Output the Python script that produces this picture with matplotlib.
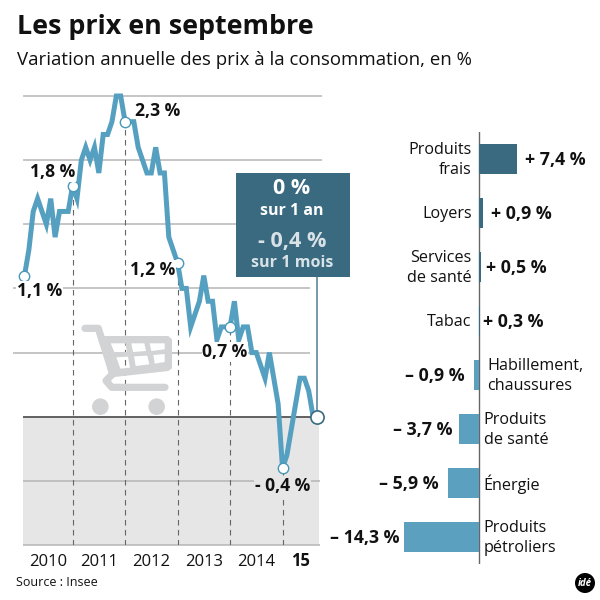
import numpy as np
from matplotlib import pyplot as plt
from matplotlib.patches import Circle, PathPatch, Rectangle
from matplotlib.path import Path

plt.rcParams['font.family'] = ['Open Sans', 'DejaVu Sans']

# monthly values, Feb 2010 -> Sep 2015
prices = [1.1, 1.3, 1.6, 1.7, 1.6, 1.5, 1.7, 1.4, 1.6, 1.6, 1.6,
          1.8, 1.7, 2.0, 2.1, 2.0, 2.1, 1.9, 2.2, 2.2, 2.3, 2.5, 2.5,
          2.3, 2.3, 2.3, 2.1, 2.0, 1.9, 1.9, 2.1, 1.9, 1.9, 1.4, 1.3,
          1.2, 1.0, 1.0, 0.7, 0.8, 0.9, 1.1, 0.9, 0.9, 0.6, 0.7, 0.7,
          0.7, 0.9, 0.6, 0.7, 0.7, 0.5, 0.5, 0.4, 0.3, 0.5, 0.3, 0.1,
          -0.4, -0.3, -0.1, 0.1, 0.3, 0.3, 0.2, 0.0, 0.0]
marked = [0, 11, 23, 35, 47, 59]
marked_labels = ['1,1 %', '1,8 %', '2,3 %', '1,2 %', '0,7 %', '- 0,4 %']
year_bounds = [-0.0, 11, 23, 35, 47, 59, 67]
years = ['2010', '2011', '2012', '2013', '2014', '15']

categories = ['Produits\nfrais', 'Loyers', 'Services\nde santé', 'Tabac',
              'Habillement,\nchaussures', 'Produits\nde santé', 'Énergie',
              'Produits\npétroliers']
changes = [7.4, 0.9, 0.5, 0.3, -0.9, -3.7, -5.9, -14.3]
change_labels = ['+ 7,4 %', '+ 0,9 %', '+ 0,5 %', '+ 0,3 %',
                 '– 0,9 %', '– 3,7 %', '– 5,9 %', '– 14,3 %']

LINE_BLUE = '#55a0c0'
DARK_BLUE = '#396a80'
LIGHT_BAR = '#5ba1bf'
GRID = '#b5b5b5'
CART = '#d2d3d5'


def px_axes(fig, left, top, right, bottom):
    return fig.add_axes([left / 600, 1 - bottom / 600,
                         (right - left) / 600, (bottom - top) / 600])


def draw_cart(ax):
    # coordinates in zoomed units: x / 3, 300 + y / 3
    def z(points):
        return [(x / 3, 300 + y / 3) for x, y in points]
    frame = z([(255, 85), (295, 85), (338, 222), (318, 242), (335, 262), (495, 262)])
    ax.plot(*zip(*frame), color=CART, lw=5.2, solid_capstyle='round',
            solid_joinstyle='round')
    outer = z([(300, 108), (505, 108), (516, 118), (516, 205), (505, 213),
               (335, 232), (325, 215)])
    cells = [[(332, 130), (376, 130), (381, 156), (343, 156)],
             [(394, 130), (433, 130), (438, 153), (399, 156)],
             [(449, 130), (494, 130), (494, 148), (454, 153)],
             [(349, 172), (384, 170), (390, 203), (361, 206)],
             [(402, 169), (442, 167), (448, 193), (407, 198)],
             [(460, 165), (494, 162), (494, 186), (464, 191)]]
    paths = [Path(outer + outer[:1], closed=True)]
    for cell in cells:
        pts = z(cell)[::-1]
        paths.append(Path(pts + pts[:1], closed=True))
    ax.add_patch(PathPatch(Path.make_compound_path(*paths), fc=CART, ec='none'))
    for cx in (301, 470):
        ax.add_patch(Circle((cx / 3, 300 + 320 / 3), 8.3, fc=CART, ec='none'))


fig = plt.figure(figsize=(6, 6), dpi=100)

# line chart
ax = px_axes(fig, 23, 96, 322, 545)
ax.patch.set_alpha(0)
ax.set_xlim(-0.34, 68.03)
ax.set_ylim(-1.0, 2.5)
for side in ax.spines.values():
    side.set_visible(False)

ax.axhspan(-1.0, 0, xmin=0, xmax=0.99, color='#e6e6e6', lw=0, zorder=0)
ax.hlines([2.5, 2.0, 1.5], -0.34, 68, color=GRID, lw=1.1, zorder=1, clip_on=False)
ax.hlines([1.0, 0.5], -2.6, 65.3, color=GRID, lw=1.1, zorder=1, clip_on=False)
ax.hlines([-0.5, -1.0], -0.34, 67.6, color=GRID, lw=1.1, zorder=1, clip_on=False)
ax.hlines(0, -0.34, 67.6, color='#555555', lw=1.3, zorder=1)

marked_vals = [prices[i] for i in marked]
ax.vlines(marked[1:], -1.0, marked_vals[1:], color='#666666', lw=0.8,
          linestyles=(0, (5, 4)), zorder=2)
ax.vlines(67, 0, 1.09, color='#5e879b', lw=1.2, zorder=2, clip_on=False)

ax.plot(range(len(prices)), prices, color=LINE_BLUE, lw=3.6, zorder=3,
        clip_on=False, solid_joinstyle='miter')
ax.plot(marked, marked_vals, ls='none', marker='o', ms=7.5, mfc='white',
        mec='#4a98b8', mew=1.0, zorder=4, clip_on=False)
ax.plot([67], [prices[-1]], ls='none', marker='o', ms=9.5, mfc='white',
        mec=DARK_BLUE, mew=1.2, zorder=4, clip_on=False)

offsets = [(15, -15), (-20, 14), (33, 11), (-25, -7), (-5, -25), (0, -18)]
label_bg = ['white', 'white', 'none', 'white', 'white', '#e6e6e6']
for i, text, off, bg in zip(marked, marked_labels, offsets, label_bg):
    ax.annotate(text, (i, prices[i]), xytext=off, textcoords='offset pixels',
                ha='center', va='center', fontsize=12.6, fontweight='bold',
                color='#111111', zorder=5, annotation_clip=False,
                bbox=dict(fc=bg, ec='none', pad=0.5))

centers = [(a + b) / 2 for a, b in zip(year_bounds[:-1], year_bounds[1:])]
ax.set_xticks(centers, years, fontsize=12, color='#111111')
ax.get_xticklabels()[-1].set_fontweight('bold')
ax.set_yticks([])
ax.tick_params(axis='x', length=0, pad=15)
for lbl in ax.get_xticklabels():
    lbl.set_verticalalignment('baseline')

# bars
bar_ax = px_axes(fig, 380, 132, 600, 564)
bar_ax.patch.set_alpha(0)
bar_ax.set_xlim((380 - 478.5) / 5.2, (600 - 478.5) / 5.2)
bar_ax.set_ylim(7.5, -0.5)
bar_ax.axis('off')
bar_ax.axvline(0, color='#666666', lw=1.0, zorder=1)
bar_pos = np.arange(len(changes))
bar_cols = [DARK_BLUE if c > 0 else LIGHT_BAR for c in changes]
bar_ax.barh(bar_pos, changes, height=0.56, color=bar_cols, zorder=2)
pads = [8, 8, 5, 3, 9, 7, 9, 5]
for y, (c, name, text, pad) in enumerate(zip(changes, categories, change_labels, pads)):
    up = c > 0
    bar_ax.annotate(text, (c, y), xytext=(pad if up else -pad, -1),
                    textcoords='offset pixels', ha='left' if up else 'right',
                    va='center', fontsize=12.8, fontweight='bold', color='#111111')
    name_x = -7 if up else 5
    if name.startswith('Habillement'):
        name_x = 9
    bar_ax.annotate(name, (0, y), xytext=(name_x, -1), textcoords='offset pixels',
                    ha='right' if up else 'left', va='center', fontsize=11.6,
                    color='#111111', linespacing=1.3)

# everything laid out in pixels
over = fig.add_axes([0, 0, 1, 1], zorder=5)
over.patch.set_alpha(0)
over.set_xlim(0, 600)
over.set_ylim(600, 0)
over.axis('off')
draw_cart(over)

over.add_patch(Rectangle((235.7, 172.7), 114.3, 104.3, fc=DARK_BLUE, ec='none'))
over.text(292, 189, '0 %', color='white', fontsize=15.5, fontweight='bold',
          ha='center', va='center')
over.text(292, 211, 'sur 1 an', color='white', fontsize=11.5, fontweight='bold',
          ha='center', va='center')
over.text(292, 241, '- 0,4 %', color='#d8e2e7', fontsize=15.6, fontweight='bold',
          ha='center', va='center')
over.text(292, 263, 'sur 1 mois', color='#d8e2e7', fontsize=11.6, fontweight='bold',
          ha='center', va='center')

over.text(17, 27, 'Les prix en septembre', fontsize=19.4, fontweight='bold',
          color='#111111', ha='left', va='center')
over.text(17, 60, 'Variation annuelle des prix à la consommation, en %',
          fontsize=13.4, color='#111111', ha='left', va='center')
over.text(16, 583, 'Source : Insee', fontsize=9, color='#111111', ha='left',
          va='center')

over.add_patch(Circle((585, 583), 10, fc='black', ec='none'))
over.text(585, 583, 'idé', color='white', fontsize=7, fontweight='bold',
          style='italic', ha='center', va='center')

fig.savefig('out.png', dpi=100)
